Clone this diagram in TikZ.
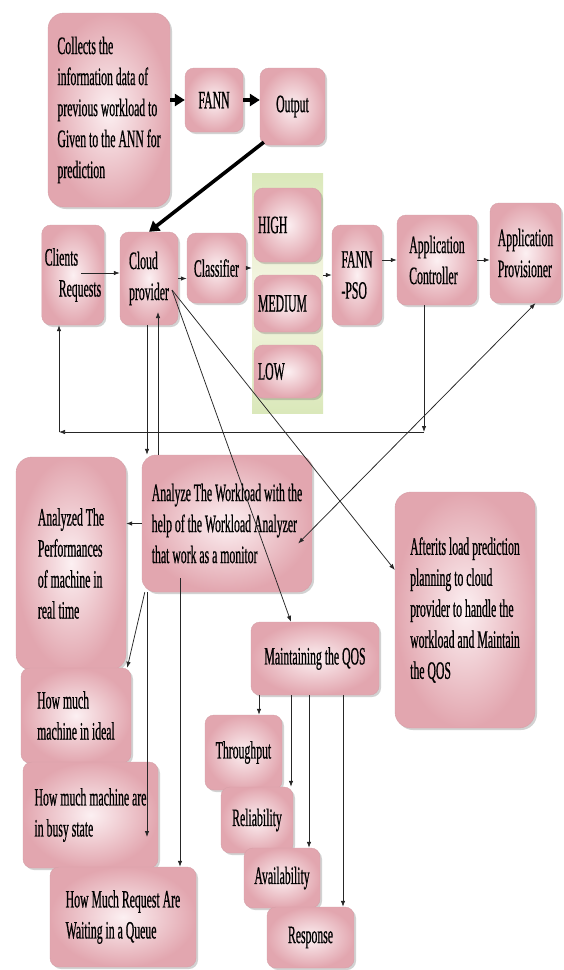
\documentclass[tikz,border=0pt]{standalone}
\usepackage{fontspec}
\setmainfont[FakeStretch=0.47,FakeBold=0.6]{Liberation Serif}
\usetikzlibrary{shadows,calc,arrows.meta}
\definecolor{boxin}{RGB}{252,240,242}
\definecolor{boxout}{RGB}{226,166,175}
\definecolor{boxline}{RGB}{214,160,168}
\definecolor{panelc}{RGB}{218,232,186}
\definecolor{panelm}{RGB}{246,246,228}
\tikzset{
  pbox/.style={inner color=boxin, outer color=boxout, draw=boxline, line width=0.4pt,
    rounded corners=9pt, align=left, font=\fontsize{25}{31}\selectfont, inner sep=3pt,
    drop shadow={shadow xshift=2pt, shadow yshift=-2pt, opacity=0.25, fill=black!70}},
  panelbox/.style={top color=panelc, bottom color=panelc, middle color=panelm, draw=none},
  conn/.style={-{Latex[length=6pt,width=4.5pt]}, line width=0.75pt, black!85},
  dconn/.style={{Latex[length=6pt,width=4.5pt]}-{Latex[length=6pt,width=4.5pt]}, line width=0.75pt, black!85},
  bigarr/.style={-{Triangle[length=10pt,width=12pt]}, line width=3.6pt, black}
}
\begin{document}
\begin{tikzpicture}[x=1pt,y=-1pt]
\fill[white] (0,0) rectangle (563,970);
\useasboundingbox (0,0) rectangle (563,970);

% top row
\node[pbox, rounded corners=16pt, minimum width=122pt, minimum height=194pt] (collect) at (109,110)
  {Collects the\\information data of\\previous workload to\\Given to the ANN for\\prediction};
\node[pbox, minimum width=58pt, minimum height=64pt] (fann) at (214,100) {FANN};
\node[pbox, minimum width=65pt, minimum height=77pt] (output) at (292.5,106.5) {Output};

% main row
\node[pbox, minimum width=62pt, minimum height=100pt] (clients) at (73,275) {Clients\\\hspace*{14pt}Requests};
\node[pbox, minimum width=58pt, minimum height=93pt] (cloud) at (149,278.5) {Cloud\\provider};
\node[pbox, minimum width=59pt, minimum height=70pt] (classifier) at (216.5,268) {Classifier};
\node[panelbox, minimum width=71pt, minimum height=240pt] (panel) at (287.5,293) {};
\node[pbox, minimum width=67pt, minimum height=74pt, text width=59pt] (high) at (287.5,225) {HIGH};
\node[pbox, minimum width=67pt, minimum height=57pt, text width=59pt] (medium) at (287.5,303.5) {MEDIUM};
\node[pbox, minimum width=67pt, minimum height=53pt, text width=59pt] (low) at (287.5,371.5) {LOW};
\node[pbox, minimum width=50pt, minimum height=100pt] (fannpso) at (357,275) {FANN\\-PSO};
\node[pbox, minimum width=80pt, minimum height=90pt] (appctrl) at (437,260) {Application\\Controller};
\node[pbox, minimum width=71pt, minimum height=100pt] (appprov) at (525.5,253) {Application\\Provisioner};

% middle
\node[pbox, rounded corners=14pt, minimum width=170pt, minimum height=137pt] (analyze) at (227,523.5)
  {Analyze The Workload with the\\help of the Workload Analyzer\\that work as a monitor};
\node[pbox, rounded corners=16pt, minimum width=110pt, minimum height=213pt] (perf) at (71,563.5)
  {Analyzed The\\Performances\\of machine in\\real time};
\node[pbox, rounded corners=16pt, minimum width=140pt, minimum height=236pt] (afterits) at (465,610)
  {Afterits load prediction\\planning to cloud\\provider to handle the\\workload and Maintain\\the QOS};
\node[pbox, minimum width=128pt, minimum height=73pt] (qos) at (315,658.5) {Maintaining the QOS};

% bottom left
\node[pbox, minimum width=110pt, minimum height=95pt] (ideal) at (76,715.5) {How much\\machine in ideal};
\node[pbox, minimum width=135pt, minimum height=106pt] (busy) at (90.5,815) {How much machine are\\in busy state};
\node[pbox, minimum width=146pt, minimum height=100pt] (queue) at (123,917) {How Much Request Are\\Waiting in a Queue};

% bottom right
\node[pbox, minimum width=77pt, minimum height=75pt] (throughput) at (243.5,752.5) {Throughput};
\node[pbox, minimum width=72pt, minimum height=66pt] (reliability) at (257,820) {Reliability};
\node[pbox, minimum width=76pt, minimum height=60pt] (availability) at (282,878) {Availability};
\node[pbox, minimum width=87pt, minimum height=61pt] (response) at (310.5,937.5) {Response};

% helper coordinates
\coordinate (x59) at (59,0);
\coordinate (x147) at (147,0);
\coordinate (x158) at (158,0);
\coordinate (x180) at (180,0);
\coordinate (x259) at (259,0);
\coordinate (x291) at (291,0);
\coordinate (x309) at (309,0);
\coordinate (x343) at (343,0);
\coordinate (x424) at (424,0);
\coordinate (fbR) at (424,432);
\coordinate (fbL) at (59,432);
\coordinate (crq) at (81,273);
\coordinate (cfan) at (172,290);
\coordinate (cupt) at (158,312);
\coordinate (anin) at (180,578);
\coordinate (busytip) at (147,837);

% thick arrows
\draw[bigarr] (collect.east |- fann.west) -- (fann.west);
\draw[bigarr] (fann.east) -- (fann.east -| output.west);
\draw[bigarr] ($(output.south west)+(4,-3)$) -- (cloud.north);

% main row connectors
\draw[conn] (crq) -- (crq -| cloud.west);
\draw[conn] (cloud.east) -- (cloud.east -| classifier.west);
\draw[conn] (classifier.east) -- (classifier.east -| panel.west);
\draw[conn] (panel.east |- fannpso.west) -- (fannpso.west);
\draw[conn] (fannpso.east |- appctrl.west) -- (appctrl.west);
\draw[conn] (appctrl.east) -- (appctrl.east -| appprov.west);

% feedback loop
\draw[conn] (x424 |- appctrl.south) -- (fbR);
\draw[conn] (fbR) -- (fbL);
\draw[conn] (fbL) -- (x59 |- clients.south);

% cloud <-> analyze and diagonals
\draw[conn] (x147 |- cloud.south) -- (x147 |- analyze.north);
\draw[conn] (x158 |- analyze.north) -- (cupt);
\draw[conn] (cfan) -- ($(qos.north)+(-24,0)$);
\draw[conn] (cfan) -- ($(afterits.west)+(0,-40)$);
\draw[dconn] ($(analyze.east)+(-14,20)$) -- ($(appprov.south)+(10,0)$);

% analyze outputs
\draw[conn] (analyze.west) -- (analyze.west -| perf.east);
\draw[conn] ($(analyze.south west)+(3,0)$) -- ($(ideal.north east)+(-4,0)$);
\draw[conn] (x147 |- analyze.south) -- (busytip);
\draw[conn] (anin) -- (x180 |- queue.north);

% QoS outputs
\draw[conn] (x259 |- qos.south) -- (x259 |- throughput.north);
\draw[conn] (x291 |- qos.south) -- (x291 |- reliability.north);
\draw[conn] (x309 |- qos.south) -- (x309 |- availability.north);
\draw[conn] (x343 |- qos.south) -- (x343 |- response.north);
\end{tikzpicture}
\end{document}
